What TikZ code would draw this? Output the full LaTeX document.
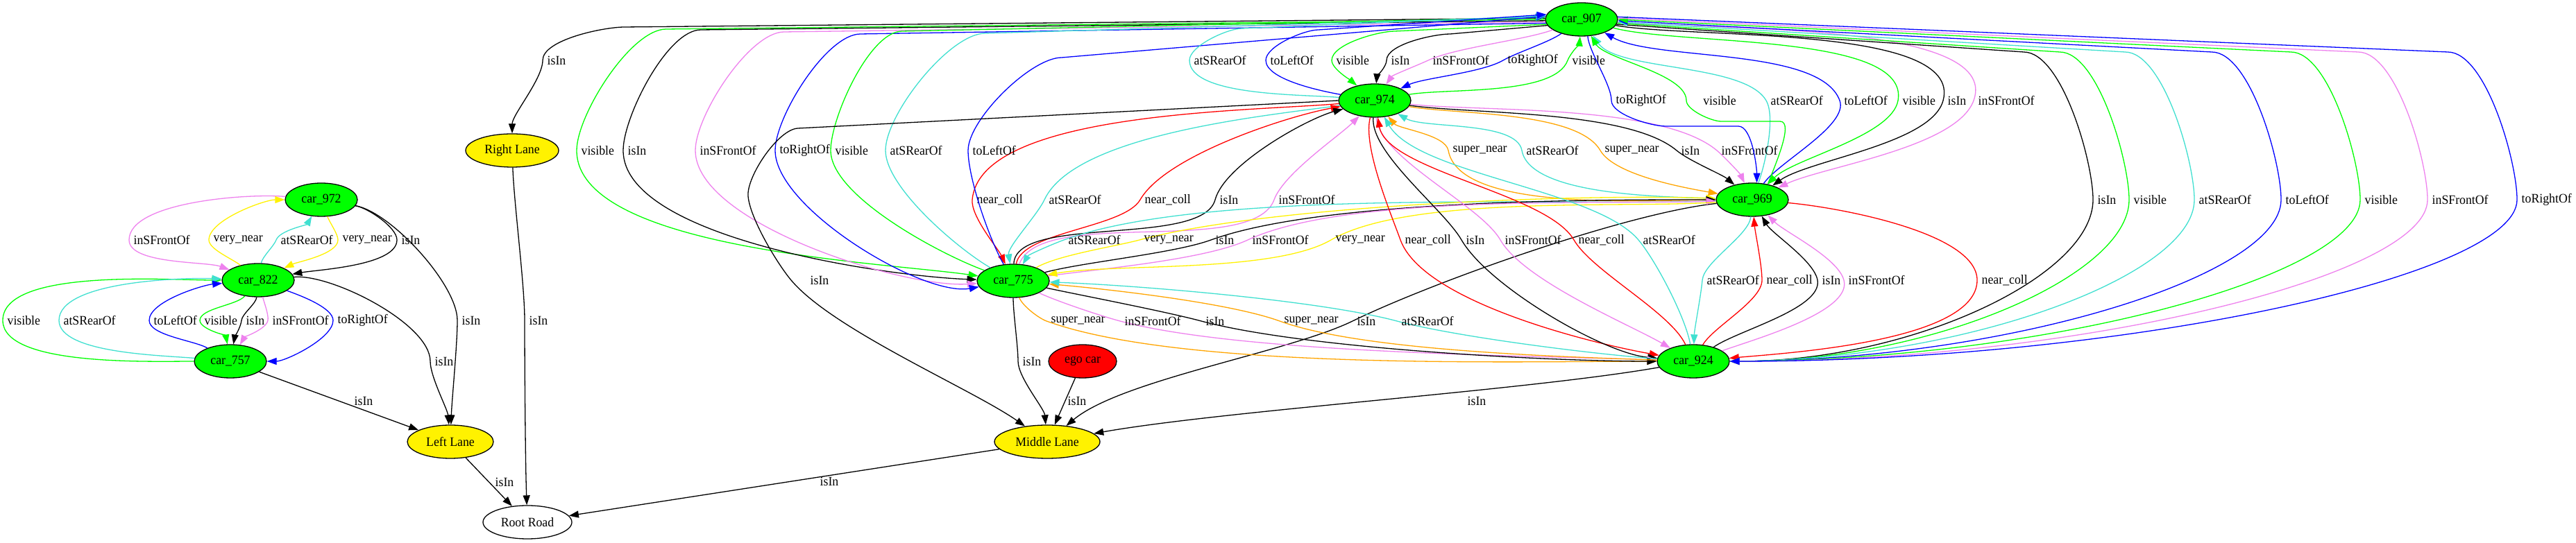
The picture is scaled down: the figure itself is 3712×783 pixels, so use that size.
\documentclass[tikz,border=0pt]{standalone}
\usepackage{fontspec}
\setmainfont{Liberation Serif}[FakeStretch=0.95]
\usetikzlibrary{shapes.geometric,arrows.meta}
\definecolor{gvgreen}{HTML}{00FF00}
\definecolor{turq}{HTML}{40E0D0}
\definecolor{viol}{HTML}{EE82EE}
\definecolor{orng}{HTML}{FFA500}
\newcommand\gvfont{\fontsize{18.7}{22}\selectfont}
\tikzset{
  car/.style={ellipse,draw,line width=1.3pt,fill=gvgreen,minimum width=104pt,minimum height=48pt,inner sep=0pt,font=\gvfont},
  lane/.style={car,fill=yellow},
  rel/.style={line width=1.3pt,arrows={-Triangle[length=14pt,width=10pt]},looseness=0.6},
  fwd/.style={},
  back/.style={arrows={Triangle[length=14pt,width=10pt]-}},
  lab/.style={font=\gvfont,text=black,inner sep=0pt,anchor=west,xshift=6pt},
  labc/.style={font=\gvfont,text=black,inner sep=0pt}
}
\begin{document}
\begin{tikzpicture}[x=1pt,y=1pt]
\fill[white] (0,0) rectangle (3712,783);
\useasboundingbox (0,0) rectangle (3712,783);

\node[car] (n907) at (2279,755) {car\_907};
\node[car] (n974) at (1981,638) {car\_974};
\node[lane,minimum width=134pt] (rlane) at (738,566) {Right Lane};
\node[car] (n972) at (463,495) {car\_972};
\node[car] (n969) at (2525,495) {car\_969};
\node[car] (n822) at (372,379) {car\_822};
\node[car] (n775) at (1460,378) {car\_775};
\node[car] (n757) at (332,262) {car\_757};
\node[car,fill=red,minimum width=98pt] (ego) at (1560,262) {ego car};
\node[car] (n924) at (2440,262) {car\_924};
\node[lane,minimum width=124pt] (llane) at (649,146) {Left Lane};
\node[lane,minimum width=152pt] (mlane) at (1509,146) {Middle Lane};
\node[lane,fill=white,minimum width=128pt] (root) at (760,30) {Root Road};

\foreach [evaluate=\w as \vin using \w+180] \sr/\ou/\x/\y/\w/\iin/\tg/\col/\txt in {
  n972/-70/487/437/-90/25/n822/yellow/very\_near,
  n972/-10/572/437/-90/10/n822/black/isIn,
  n972/175/186/437/-90/160/n822/viol/inSFrontOf,
  n822/140/301/437/90/180/n972/yellow/very\_near,
  n822/80/398/437/70/-120/n972/turq/atSRearOf,
  n757/180/4/321/90/180/n822/gvgreen/visible,
  n757/175/85/321/90/178/n822/turq/atSRearOf,
  n757/150/215/321/90/185/n822/blue/toLeftOf,
  n822/-130/288/321/-90/100/n757/gvgreen/visible,
  n822/-95/348/321/-95/80/n757/black/isIn,
  n822/-75/386/321/-100/60/n757/viol/inSFrontOf,
  n822/-20/480/321/-90/0/n757/blue/toRightOf,
  n972/-10/659/321/-90/88/llane/black/isIn,
  n822/5/620/262/-90/95/llane/black/isIn,
  rlane/-88/756/321/-90/92/root/black/isIn,
  n775/-90/1467/262/-90/95/mlane/black/isIn,
  n969/186/1949/320/-154/40/mlane/black/isIn,
  n907/200/2058/696/-155/55/n974/viol/inSFrontOf,
  n907/215/2166/696/-150/25/n974/blue/toRightOf,
  n974/10/2259/696/70/-95/n907/gvgreen/visible,
  n969/70/2545/638/120/-55/n907/turq/atSRearOf,
  n969/55/2651/638/110/-30/n907/blue/toLeftOf,
  n907/-15/2735/638/-100/45/n969/gvgreen/visible,
  n907/-10/2800/638/-105/35/n969/black/isIn,
  n907/-5/2844/638/-110/25/n969/viol/inSFrontOf,
  n969/180/2087/566/100/-50/n974/orng/super\_near,
  n969/178/2193/566/100/-30/n974/turq/atSRearOf,
  n974/-10/2306/566/-60/170/n969/orng/super\_near,
  n974/-8/2416/566/-40/140/n969/black/isIn,
  n974/-6/2474/566/-40/115/n969/viol/inSFrontOf,
  n974/185/1401/495/-95/115/n775/red/near\_coll,
  n974/188/1505/495/-115/100/n775/turq/atSRearOf,
  n775/80/1643/495/60/190/n974/red/near\_coll,
  n775/88/1751/495/75/195/n974/black/isIn,
  n775/70/1836/495/70/-135/n974/viol/inSFrontOf,
  n969/182/1533/437/-160/60/n775/turq/atSRearOf,
  n775/30/1642/437/15/178/n969/yellow/very\_near,
  n775/15/1745/437/20/180/n969/black/isIn,
  n775/8/1798/437/25/182/n969/viol/inSFrontOf,
  n969/184/1918/437/-150/10/n775/yellow/very\_near,
  n974/-105/2018/437/-70/170/n924/red/near\_coll,
  n974/-95/2106/437/-60/175/n924/black/isIn,
  n974/-85/2162/437/-60/150/n924/viol/inSFrontOf,
  n924/115/2268/437/120/-80/n974/red/near\_coll,
  n924/100/2361/437/130/-60/n974/turq/atSRearOf,
  n969/-95/2453/379/-95/88/n924/turq/atSRearOf,
  n924/60/2539/379/90/-85/n969/red/near\_coll,
  n924/35/2619/379/100/-60/n969/black/isIn,
  n924/20/2657/379/105/-45/n969/viol/inSFrontOf,
  n969/-5/2849/379/-90/5/n924/red/near\_coll,
  n775/-70/1508/320/-20/180/n924/orng/super\_near,
  n775/-25/1614/320/-15/178/n924/viol/inSFrontOf,
  n775/-12/1731/320/-15/180/n924/black/isIn,
  n924/178/1844/320/160/-5/n775/orng/super\_near,
  n924/176/2013/320/165/-2/n775/turq/atSRearOf} {
  \draw[rel,\col] (\sr) to[out=\ou,in=\vin] (\x,\y) node[lab] {\txt} to[out=\w,in=\iin] (\tg);
}

\foreach \an/\cx/\cy/\x/\y/\iin/\tg/\ar/\col/\txt in {
  178/900/744/782/696/90/rlane/fwd/black/isIn,
  180/960/741/831/566/172/n775/fwd/gvgreen/visible,
  182/1010/740/898/566/178/n775/fwd/black/isIn,
  184/1130/737/1002/566/184/n775/fwd/viol/inSFrontOf,
  186/1240/734/1117/566/190/n775/fwd/blue/toRightOf,
  177/1300/738/1197/566/160/n775/back/gvgreen/visible,
  176/1420/735/1276/566/150/n775/back/turq/atSRearOf,
  175/1530/700/1395/566/120/n775/back/blue/toLeftOf,
  174/1790/742/1714/696/175/n974/back/turq/atSRearOf,
  172/1900/740/1824/696/170/n974/back/blue/toLeftOf,
  188/2010/738/1919/696/140/n974/fwd/gvgreen/visible,
  190/2090/734/1998/696/85/n974/fwd/black/isIn} {
  \draw[rel,\ar,\col] (n907.\an) -- (\cx,\cy) to[out=180,in=90] (\x,\y) node[lab] {\txt} to[out=-90,in=\iin] (\tg);
}

\foreach [evaluate=\x as \dd using 0.5*(\x-2492)] \an/\cx/\x/\ar/\col/\txt in {
  -8/2916/3016/fwd/black/isIn,
  -6/2968/3068/fwd/gvgreen/visible,
  -4/3062/3162/back/turq/atSRearOf,
  -2/3187/3287/back/blue/toLeftOf,
  0/3301/3401/back/gvgreen/visible,
  2/3398/3498/fwd/viol/inSFrontOf,
  4/3527/3627/fwd/blue/toRightOf} {
  \draw[rel,\ar,\col] (n907.\an) -- (\cx,708) to[out=0,in=90] (\x,495) node[lab] {\txt}
    .. controls +(0,-110) and +(\dd,0) .. (n924.east);
}

\draw[rel,blue] (n907.-70) to[out=-85,in=90] (2322,638) node[lab] {toRightOf}
  to[out=-90,in=180] (2400,601) -- (2505,601) to[out=0,in=90] (n969.75);
\draw[rel,gvgreen] (n969.45) to[out=70,in=0] (2565,608) -- (2480,608) to[out=180,in=-90] (2430,638)
  node[labc] at (2478,638) {visible} to[out=90,in=-60] (n907.-60);
\draw[rel] (n757) -- (llane) node[labc] at (524,205) {isIn};
\draw[rel] (llane) -- (root) node[labc] at (727,88) {isIn};
\draw[rel] (ego) -- (mlane) node[labc] at (1552,205) {isIn};
\draw[rel] (mlane) -- (root) node[labc] at (1195,89) {isIn};
\draw[rel] (n924) to[out=190,in=10] (mlane) node[labc] at (2128,205) {isIn};
\draw[rel] (n974.180) -- (1150,598) to[out=182,in=95] (1078,500) to[out=-85,in=130] (1140,379)
  node[labc] at (1181,379) {isIn} to[out=-50,in=145] (mlane);
\end{tikzpicture}
\end{document}
